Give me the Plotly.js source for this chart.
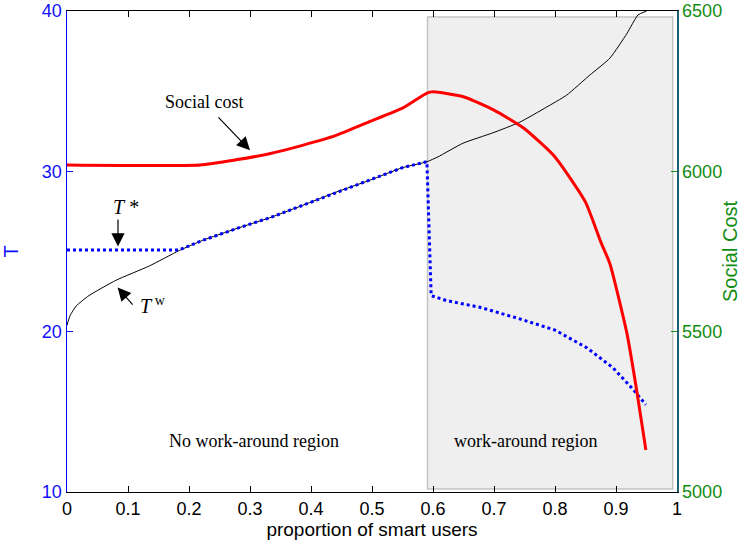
<!DOCTYPE html>
<html>
<head>
<meta charset="utf-8">
<script src="https://cdn.plot.ly/plotly-3.0.1.min.js"></script>
<style>html,body{margin:0;padding:0;background:#fff;}#chart{width:741px;height:546px;}</style>
</head>
<body>
<div id="chart"></div>
<script>
// proportion of smart users vs T^w (black thin line)
const xTw = [0, 0.005, 0.015, 0.036, 0.08, 0.135, 0.184, 0.222, 0.277, 0.332, 0.386, 0.441, 0.496, 0.55, 0.59, 0.608, 0.649, 0.698, 0.742, 0.786, 0.819, 0.857, 0.89, 0.918, 0.936, 0.95];
const yTw = [20.4, 21.0, 21.6, 22.25, 23.2, 24.1, 25.06, 25.69, 26.42, 27.1, 27.875, 28.7, 29.44, 30.23, 30.6, 30.9, 31.75, 32.4, 33.06, 34.0, 34.75, 36.0, 37.06, 38.6, 39.75, 40.0];

// T* (blue dotted)
const xTs = [0, 0.184, 0.222, 0.277, 0.332, 0.386, 0.441, 0.496, 0.55, 0.59, 0.597, 0.622, 0.65, 0.677, 0.742, 0.8, 0.852, 0.895, 0.928, 0.949];
const yTs = [25.1, 25.1, 25.69, 26.42, 27.1, 27.875, 28.7, 29.44, 30.23, 30.6, 22.25, 21.94, 21.73, 21.52, 20.8, 20.1, 19.0, 17.75, 16.4, 15.44];

// Social cost (red, right axis)
const xSC = [0, 0.218, 0.277, 0.332, 0.386, 0.441, 0.496, 0.55, 0.59, 0.6, 0.651, 0.7, 0.75, 0.8, 0.85, 0.875, 0.89, 0.918, 0.934, 0.949];
const ySC = [6020, 6020, 6036, 6055, 6081, 6112, 6155, 6197, 6244, 6248, 6232, 6191, 6133, 6045, 5904, 5780, 5712, 5494, 5316, 5131];

const xTicks = [0, 0.1, 0.2, 0.3, 0.4, 0.5, 0.6, 0.7, 0.8, 0.9, 1];
const xTickText = ['0', '0.1', '0.2', '0.3', '0.4', '0.5', '0.6', '0.7', '0.8', '0.9', '1'];
const yTicks = [10, 20, 30, 40];
const y2Ticks = [5000, 5500, 6000, 6500];

// work-around region bounds
const regionX = [0.591, 0.993];
const regionY = [10.19, 39.625];

const BLUE = '#1010ff';
const GREEN = '#128c12';
const sans = 'Liberation Sans, Arial, sans-serif';
const serif = 'Liberation Serif, Times New Roman, serif';
const NB = '\u00a0';

const traces = [
  {x: xTw, y: yTw, type: 'scatter', mode: 'lines', line: {color: '#000', width: 1, shape: 'spline', smoothing: 0.5}, yaxis: 'y', hoverinfo: 'skip'},
  {x: xTs, y: yTs, type: 'scatter', mode: 'lines', line: {color: '#0000ff', width: 3, dash: '3px,3px'}, yaxis: 'y', hoverinfo: 'skip'},
  {x: xSC, y: ySC, type: 'scatter', mode: 'lines', line: {color: '#ff0000', width: 3, shape: 'spline', smoothing: 0.5}, yaxis: 'y2', hoverinfo: 'skip'}
];

const arrowStyle = {arrowhead: 2, arrowsize: 2.2, arrowwidth: 1.2, arrowcolor: '#000'};

const layout = {
  width: 741, height: 546,
  margin: {l: 67, r: 64, t: 11, b: 54},
  paper_bgcolor: '#fff', plot_bgcolor: 'rgba(0,0,0,0)',
  showlegend: false,
  xaxis: {
    range: [0, 1], tickvals: xTicks, ticktext: xTickText,
    ticks: 'inside', ticklen: 6, tickcolor: '#000',
    showline: true, linecolor: '#000', linewidth: 1.2, mirror: 'ticks',
    showgrid: false, zeroline: false,
    tickfont: {family: sans, size: 18, color: '#000'},
    title: {text: 'proportion of smart users', font: {family: sans, size: 19, color: '#000'}, standoff: 4}
  },
  yaxis: {
    range: [10, 40], tickvals: yTicks,
    ticks: 'inside', ticklen: 6, tickcolor: BLUE,
    showline: true, linecolor: '#0000ff', linewidth: 1.5,
    showgrid: false, zeroline: false,
    tickfont: {family: sans, size: 18, color: BLUE},
    title: {text: 'T', font: {family: sans, size: 20, color: BLUE}, standoff: 20}
  },
  yaxis2: {
    range: [5000, 6500], tickvals: y2Ticks, overlaying: 'y', side: 'right',
    ticks: 'inside', ticklen: 6, tickcolor: GREEN,
    showline: true, linecolor: '#1d5f72', linewidth: 1.5,
    showgrid: false, zeroline: false,
    tickfont: {family: sans, size: 18, color: GREEN},
    title: {text: 'Social Cost', font: {family: sans, size: 20, color: GREEN}, standoff: 4}
  },
  shapes: [
    {type: 'rect', xref: 'x', yref: 'y', x0: regionX[0], x1: regionX[1], y0: regionY[0], y1: regionY[1],
     fillcolor: '#efefef', line: {color: '#c4c4c4', width: 1.5}, layer: 'below'}
  ],
  annotations: [
    Object.assign({x: 0.3, y: 31.31, xref: 'x', yref: 'y', text: 'Social cost', showarrow: true, ax: -46, ay: -48, startstandoff: 5,
      font: {family: serif, size: 18, color: '#000'}}, arrowStyle),
    Object.assign({x: 0.0836, y: 25.31, xref: 'x', yref: 'y', text: NB + NB + NB + '<i>T</i> *', showarrow: true, ax: 0, ay: -27,
      xanchor: 'center', yanchor: 'bottom', font: {family: serif, size: 20, color: '#000'}}, arrowStyle),
    Object.assign({x: 0.083, y: 22.75, xref: 'x', yref: 'y', text: NB + '<i>T</i><sup> w</sup>', showarrow: true, ax: 15, ay: 17,
      xanchor: 'left', yanchor: 'middle', font: {family: serif, size: 20, color: '#000'}}, arrowStyle),
    {x: 0.3066, y: 13.19, xref: 'x', yref: 'y', text: 'No work-around region', showarrow: false, font: {family: serif, size: 18, color: '#000'}},
    {x: 0.751, y: 13.19, xref: 'x', yref: 'y', text: 'work-around region', showarrow: false, font: {family: serif, size: 18, color: '#000'}}
  ]
};

Plotly.newPlot('chart', traces, layout, {displayModeBar: false, staticPlot: true});
</script>
</body>
</html>
